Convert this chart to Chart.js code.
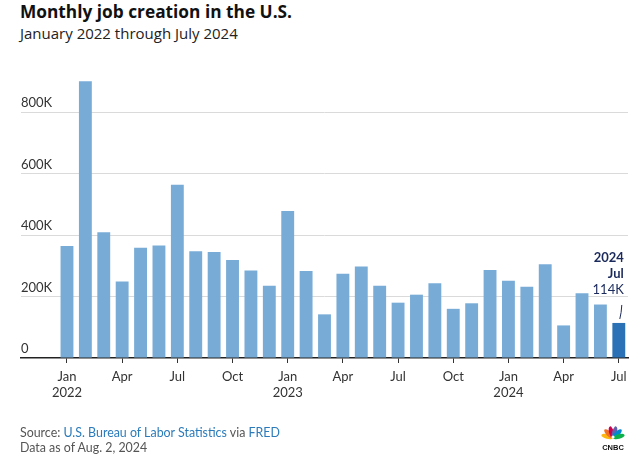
<!DOCTYPE html>
<html>
<head>
<meta charset="utf-8">
<script src="https://cdn.jsdelivr.net/npm/chart.js@4"></script>
<style>
  html, body { margin: 0; padding: 0; background: #fff; }
  body { width: 640px; height: 466px; position: relative; overflow: hidden; font-family: Lato, "Open Sans", sans-serif; }
  #title { position: absolute; left: 20px; top: 2px; font-family: "Open Sans", Lato, sans-serif; font-weight: 700; font-size: 17.3px; line-height: 20px; color: #111; }
  #subtitle { position: absolute; left: 20px; top: 24px; font-family: "Open Sans", Lato, sans-serif; font-size: 15px; line-height: 18px; color: #222; }
  #chart { position: absolute; left: 0; top: 0; }
  #footer { position: absolute; left: 20px; top: 425px; font-size: 12.4px; line-height: 15px; color: #555; }
  #footer .lnk { color: #2b7bbb; }
  #logo { position: absolute; left: 598px; top: 422px; width: 30px; height: 30px; }
</style>
</head>
<body>
<div id="title">Monthly job creation in the U.S.</div>
<div id="subtitle">January 2022 through July 2024</div>
<canvas id="chart" width="640" height="466"></canvas>
<div id="footer">Source: <span class="lnk">U.S. Bureau of Labor Statistics</span> via <span class="lnk">FRED</span><br>Data as of Aug. 2, 2024</div>
<svg id="logo" viewBox="0 0 30 30">
  <g transform="translate(15,16)">
    <ellipse cx="0" cy="-6" rx="2.4" ry="6" fill="#fcb711" transform="rotate(-75)"/>
    <ellipse cx="0" cy="-6" rx="2.4" ry="6" fill="#f37021" transform="rotate(-45)"/>
    <ellipse cx="0" cy="-6" rx="2.4" ry="6" fill="#cc004c" transform="rotate(-15)"/>
    <ellipse cx="0" cy="-6" rx="2.4" ry="6" fill="#6460aa" transform="rotate(15)"/>
    <ellipse cx="0" cy="-6" rx="2.4" ry="6" fill="#0089d0" transform="rotate(45)"/>
    <ellipse cx="0" cy="-6" rx="2.4" ry="6" fill="#0db14b" transform="rotate(75)"/>
    <circle cx="0" cy="-1" r="1.6" fill="#fff"/>
  </g>
  <text x="15" y="28" text-anchor="middle" font-family="Liberation Sans, Arial, sans-serif" font-weight="700" font-size="7.5" fill="#111">CNBC</text>
</svg>
<script>
// ---- data ----
const months = [
  'Jan 2022','Feb 2022','Mar 2022','Apr 2022','May 2022','Jun 2022','Jul 2022','Aug 2022','Sep 2022','Oct 2022','Nov 2022','Dec 2022',
  'Jan 2023','Feb 2023','Mar 2023','Apr 2023','May 2023','Jun 2023','Jul 2023','Aug 2023','Sep 2023','Oct 2023','Nov 2023','Dec 2023',
  'Jan 2024','Feb 2024','Mar 2024','Apr 2024','May 2024','Jun 2024','Jul 2024'
];
// jobs added, thousands
const jobs = [
  364, 900, 409, 249, 359, 366, 564, 347, 345, 319, 285, 235,
  478, 283, 142, 274, 298, 235, 180, 206, 243, 160, 178, 286,
  251, 232, 305, 106, 211, 174, 114
];
const yTickValues = [0, 200, 400, 600, 800];
const yTickLabels = ['0', '200K', '400K', '600K', '800K'];
const xTickIndex = [0, 3, 6, 9, 12, 15, 18, 21, 24, 27, 30];
const xTickLabels = [['Jan','2022'],'Apr','Jul','Oct',['Jan','2023'],'Apr','Jul','Oct',['Jan','2024'],'Apr','Jul'];
const highlightLines = ['2024', 'Jul', '114K'];

const BAR = '#78acd7';
const BAR_HI = '#2a72b5';
const NAVY = '#1b2a5c';
const FONT = 'Lato, "Open Sans", sans-serif';

const annotate = {
  id: 'annotate',
  afterDatasetsDraw(chart) {
    const meta = chart.getDatasetMeta(0);
    const last = meta.data[meta.data.length - 1];
    const ctx = chart.ctx;
    const x = last.x + 5;
    const top = last.y;
    ctx.save();
    ctx.fillStyle = NAVY;
    ctx.textAlign = 'right';
    ctx.textBaseline = 'alphabetic';
    ctx.font = '700 13px ' + FONT;
    ctx.fillText(highlightLines[0], x, top - 61);
    ctx.fillText(highlightLines[1], x, top - 45);
    ctx.font = '400 13px ' + FONT;
    ctx.fillText(highlightLines[2], x, top - 29);
    ctx.strokeStyle = NAVY;
    ctx.lineWidth = 1;
    ctx.beginPath();
    ctx.moveTo(last.x + 3, top - 18);
    ctx.quadraticCurveTo(last.x + 2.6, top - 10, last.x + 1, top - 4);
    ctx.stroke();
    ctx.restore();
  }
};

new Chart(document.getElementById('chart'), {
  type: 'bar',
  data: {
    labels: months,
    datasets: [{
      data: jobs.map((v, i) => ({ x: i, y: v })),
      backgroundColor: jobs.map((v, i) => i === jobs.length - 1 ? BAR_HI : BAR),
      borderWidth: 0,
      barPercentage: 0.7,
      categoryPercentage: 1.0
    }]
  },
  options: {
    responsive: false,
    animation: false,
    devicePixelRatio: 1,
    layout: { padding: { left: 21, right: 12, top: 66, bottom: 0 } },
    plugins: { legend: { display: false }, tooltip: { enabled: false } },
    scales: {
      x: {
        type: 'linear',
        offset: false,
        min: -2.5,
        max: 30.5,
        afterFit: s => { s.height = 108; },
        afterBuildTicks: s => { s.ticks = xTickIndex.map(v => ({ value: v })); },
        grid: { offset: false, drawOnChartArea: false, drawTicks: true, tickLength: 5, tickColor: '#333', tickWidth: 1 },
        border: { display: true, color: '#222', width: 1.5 },
        ticks: {
          autoSkip: false,
          maxRotation: 0,
          padding: 6,
          color: '#333',
          font: { family: FONT, size: 13, lineHeight: 1.2 },
          callback: (v) => { const k = xTickIndex.indexOf(v); return k >= 0 ? xTickLabels[k] : ''; }
        }
      },
      y: {
        min: 0,
        max: 950,
        afterFit: s => { s.width = 0; },
        afterBuildTicks: s => { s.ticks = yTickValues.map(v => ({ value: v })); },
        grid: {
          drawTicks: false,
          color: c => (c.tick && c.tick.value === 0) ? 'rgba(0,0,0,0)' : '#dadada',
          lineWidth: 1
        },
        border: { display: false },
        ticks: {
          mirror: true,
          padding: 0,
          labelOffset: -9,
          color: '#333',
          font: { family: FONT, size: 13 },
          callback: (v) => { const k = yTickValues.indexOf(v); return k >= 0 ? yTickLabels[k] : ''; }
        }
      }
    }
  },
  plugins: [annotate]
});
</script>
</body>
</html>
